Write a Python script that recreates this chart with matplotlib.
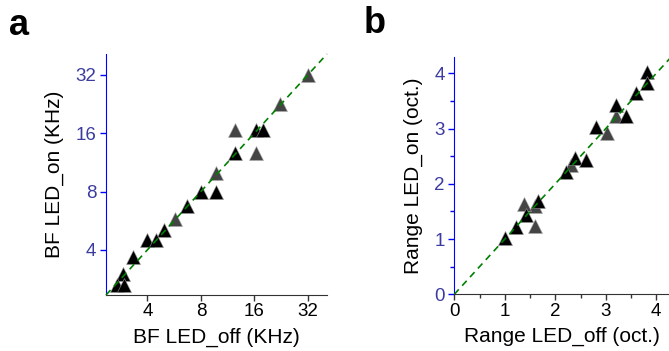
import numpy as np
import matplotlib
matplotlib.use("Agg")
import matplotlib.pyplot as plt

plt.rcParams['font.family'] = ['Liberation Sans', 'DejaVu Sans']

# Panel a: best frequency (kHz)
bf_off_black = [16.3, 17.8, 12.4, 8.0, 9.77, 6.68, 4.97, 3.97, 4.46, 3.33, 2.93, 2.69, 2.97]
bf_on_black  = [16.6, 16.6, 12.6, 8.0, 8.0, 6.76, 5.07, 4.52, 4.52, 3.69, 3.01, 2.64, 2.64]
bf_off_gray = [32.0, 22.3, 12.4, 16.3, 9.77, 5.74]
bf_on_gray  = [32.0, 22.6, 16.6, 12.6, 9.96, 5.78]
bf_ticks = [4, 8, 16, 32]

# Panel b: range (octaves)
rg_off_black = [3.81, 3.81, 3.60, 3.20, 3.40, 2.80, 2.39, 2.60, 2.21, 1.65, 1.41, 1.22, 1.00]
rg_on_black  = [4.03, 3.82, 3.64, 3.43, 3.23, 3.02, 2.46, 2.43, 2.22, 1.68, 1.44, 1.22, 1.02]
rg_off_gray = [3.20, 3.02, 2.32, 1.60, 1.39, 1.60]
rg_on_gray  = [3.23, 2.92, 2.34, 1.60, 1.63, 1.24]
rg_ticks = [0, 1, 2, 3, 4]

W, H = 669, 351
fig = plt.figure(figsize=(W/100, H/100), dpi=100)

def ax_rect(l, r, t, b):
    return [l/W, 1 - b/H, (r-l)/W, (b-t)/H]

blue = '#0000ff'
ylab_col = '#3c3ca0'
gray = '#444444'
green = '#008000'
ms = 10
tfs = 13.5
lfs = 15

def style(ax):
    ax.spines['top'].set_visible(False)
    ax.spines['right'].set_visible(False)
    ax.spines['left'].set_color(blue)
    ax.spines['bottom'].set_color('#333333')
    ax.tick_params(axis='y', colors=blue, labelcolor=ylab_col, labelsize=tfs, length=4, width=1, pad=3)
    ax.tick_params(axis='x', colors='#333333', labelcolor='black', labelsize=tfs, length=4, width=1, pad=2)

# Panel a
ax1 = fig.add_axes(ax_rect(106, 327, 54, 295))
lo, hi = 2.34, 41.0
ax1.set_xscale('log', base=2)
ax1.set_yscale('log', base=2)
ax1.set_xlim(lo, hi)
ax1.set_ylim(lo, hi)
ax1.plot(bf_off_gray, bf_on_gray, ls='none', marker='^', ms=ms, mfc=gray, mec='#aaaaaa', mew=0.4, zorder=2)
ax1.plot(bf_off_black, bf_on_black, ls='none', marker='^', ms=ms, mfc='black', mec='#999999', mew=0.4, zorder=3)
ax1.plot([lo, hi], [lo, hi], ls=(0, (4, 3)), color=green, lw=1.2, zorder=4, clip_on=False)
ax1.set_xticks(bf_ticks)
ax1.set_yticks(bf_ticks)
ax1.set_xticklabels([str(t) for t in bf_ticks])
ax1.set_yticklabels([str(t) for t in bf_ticks])
ax1.minorticks_off()
style(ax1)
ax1.set_xlabel('BF LED_off (KHz)', fontsize=lfs, labelpad=5)
ax1.set_ylabel('BF LED_on (KHz)', fontsize=lfs, labelpad=8)

# Panel b
ax2 = fig.add_axes(ax_rect(454.3, 669, 57, 294.3))
ax2.set_xlim(0, (669-454.3)/50.5)
ax2.set_ylim(0, (294.3-57)/55.25)
ax2.plot(rg_off_gray, rg_on_gray, ls='none', marker='^', ms=ms, mfc=gray, mec='#aaaaaa', mew=0.4, zorder=2)
ax2.plot(rg_off_black, rg_on_black, ls='none', marker='^', ms=ms, mfc='black', mec='#999999', mew=0.4, zorder=3)
ax2.plot([0, 4.3], [0, 4.3], ls=(0, (4, 3)), color=green, lw=1.2, zorder=4, clip_on=True)
ax2.set_xticks(rg_ticks)
ax2.set_yticks(rg_ticks)
ax2.set_xticks(np.arange(0.5, 4.3, 1.0), minor=True)
ax2.set_yticks(np.arange(0.5, 4.3, 1.0), minor=True)
style(ax2)
ax2.tick_params(which='minor', length=3, width=1)
ax2.tick_params(axis='y', which='minor', colors=blue)
ax2.tick_params(axis='x', which='minor', colors='#333333')
ax2.set_xlabel('Range LED_off (oct.)', fontsize=lfs, labelpad=5)
ax2.set_ylabel('Range LED_on (oct.)', fontsize=lfs, labelpad=8)

fig.text(9/W, 1 - 35/H, 'a', fontsize=26, fontweight='bold', va='baseline', ha='left')
fig.text(364/W, 1 - 33/H, 'b', fontsize=26, fontweight='bold', va='baseline', ha='left')

fig.savefig('out.png', dpi=100)
